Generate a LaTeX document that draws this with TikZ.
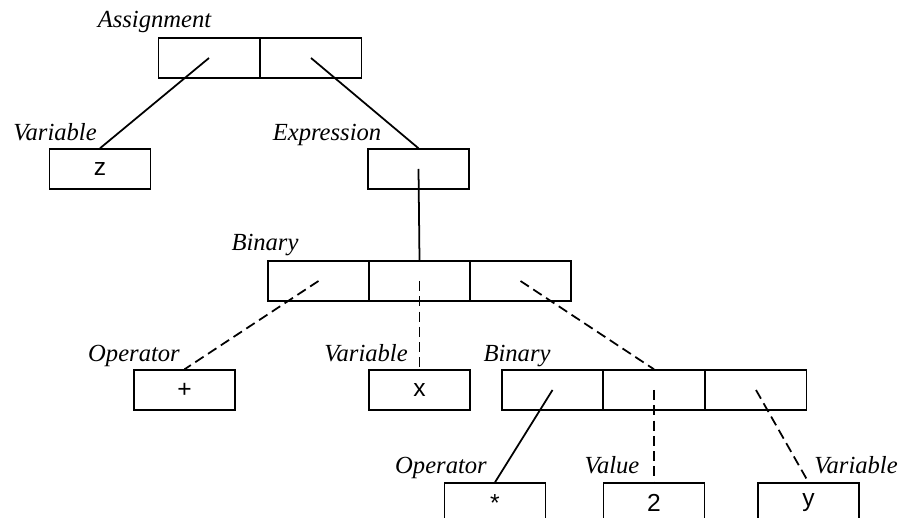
\documentclass[tikz,border=0pt]{standalone}
\usepackage{fontspec}
\setmainfont{Liberation Serif}
\setsansfont{Liberation Sans}
\usetikzlibrary{positioning}

\begin{document}
\begin{tikzpicture}[
    x=0.2mm, y=-0.2mm,
    cell/.style={draw, line width=0.8pt, minimum width=20.2mm, minimum height=8mm, inner sep=0pt, font=\sffamily\fontsize{14}{16}\selectfont},
    kind/.style={anchor=base, inner sep=0pt, font=\itshape\fontsize{14}{16}\selectfont},
    link/.style={line width=1pt},
    ptr/.style={line width=1pt, dash pattern=on 5.7pt off 3pt}
]
\useasboundingbox (0,0) rectangle (905,518);

% Assignment
\node[cell] (asgL) at (209,58) {};
\node[cell] (asgR) at (311,58) {};
\node[kind] (asgK) at (154.5,28) {Assignment};

% Left and right sides
\node[cell] (varZ) at (100,169) {z};
\node[kind] (varZK) at (55,141) {Variable};
\node[cell] (expr) at (418.5,169) {};
\node[kind] (exprK) at (327,141) {Expression};

% Binary
\node[cell] (binL) at (318.5,281) {};
\node[cell] (binM) at (419.5,281) {};
\node[cell] (binR) at (520.5,281) {};
\node[kind] (binK) at (265,251) {Binary};

% Operands of the first binary
\node[cell] (opPlus) at (184.5,390) {+};
\node[kind] (opPlusK) at (134,362) {Operator};
\node[cell] (varX) at (419.5,390) {x};
\node[kind] (varXK) at (366,362) {Variable};
\node[cell] (bin2L) at (552.5,390) {};
\node[cell] (bin2M) at (654,390) {};
\node[cell] (bin2R) at (756,390) {};
\node[kind] (bin2K) at (517,362) {Binary};

% Operands of the second binary
\node[cell] (opStar) at (495,503) {*};
\node[kind] (opStarK) at (441,473) {Operator};
\node[cell] (val2) at (654,503) {2};
\node[kind] (val2K) at (612,473) {Value};
\node[cell] (varY) at (808.5,503) {y};
\node[kind] (varYK) at (856,473) {Variable};

% Connectors
\draw[link] (asgL.center) -- (varZ.north);
\draw[link] (asgR.center) -- (expr.north);
\draw[link] (expr.center) -- (binM.north);
\draw[ptr] (binL.center) -- (opPlus.north);
\draw[ptr] (binM.center) -- (varX.north);
\draw[ptr] (binR.center) -- (bin2M.north);
\draw[link] (bin2L.center) -- (opStar.north);
\draw[ptr] (bin2M.center) -- (val2.north);
\draw[ptr] (bin2R.center) -- (varY.north);

\end{tikzpicture}
\end{document}
